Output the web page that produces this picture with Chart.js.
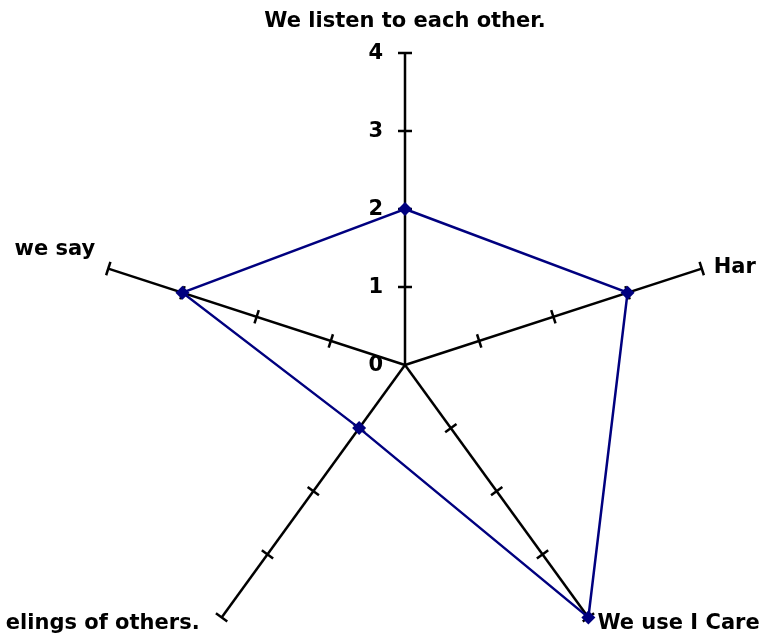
<!DOCTYPE html>
<html>
<head>
<meta charset="utf-8">
<script src="https://cdn.jsdelivr.net/npm/chart.js@4/dist/chart.umd.min.js"></script>
<style>
  html, body { margin: 0; padding: 0; background: #fff; overflow: hidden; }
  #wrap { width: 761px; height: 641px; overflow: hidden; }
</style>
</head>
<body>
<div id="wrap"><canvas id="radar" width="761" height="700"></canvas></div>
<script>
// ------------------------------------------------------------------
//  Data
// ------------------------------------------------------------------
const axisLabels = ['We listen to each other.', 'Har', 'We use I Care', 'elings of others.', 'we say'];
const ratings = [2, 3, 4, 1, 3];
const tickValues = [0, 1, 2, 3, 4];

const FONT = 'bold 21px "DejaVu Sans", sans-serif';

// where each axis label sits relative to the end of its axis
const labelPlace = [
    { dx: 0,   dy: -31, align: 'center' },
    { dx: 12,  dy: -1,  align: 'left' },
    { dx: 9,   dy: 6,   align: 'left' },
    { dx: -22, dy: 6,   align: 'right' },
    { dx: -13, dy: -19, align: 'right' }
];

// ------------------------------------------------------------------
//  Plugin: axis cross ticks, value labels, axis names
// ------------------------------------------------------------------
const axisDecor = {
    id: 'axisDecor',
    beforeDatasetsDraw(chart) {
        const scale = chart.scales.r;
        const ctx = chart.ctx;
        ctx.save();
        ctx.strokeStyle = '#000';
        ctx.lineWidth = 2.5;
        for (let i = 0; i < axisLabels.length; i++) {
            const a = scale.getIndexAngle(i) - Math.PI / 2;
            const px = -Math.sin(a), py = Math.cos(a);
            tickValues.forEach(v => {
                if (v === 0) return;
                const p = scale.getPointPositionForValue(i, v);
                ctx.beginPath();
                ctx.moveTo(p.x - px * 7, p.y - py * 7);
                ctx.lineTo(p.x + px * 7, p.y + py * 7);
                ctx.stroke();
            });
        }
        ctx.restore();
    },
    afterDraw(chart) {
        const scale = chart.scales.r;
        const ctx = chart.ctx;
        ctx.save();
        ctx.font = FONT;
        ctx.fillStyle = '#000';
        ctx.textBaseline = 'middle';

        // value labels on the first axis, left of the line
        ctx.textAlign = 'right';
        tickValues.forEach(v => {
            const p = scale.getPointPositionForValue(0, v);
            ctx.fillText(String(v), p.x - 22, p.y + 1);
        });

        // axis names
        axisLabels.forEach((txt, i) => {
            const p = scale.getPointPositionForValue(i, scale.max);
            const place = labelPlace[i];
            ctx.textAlign = place.align;
            ctx.fillText(txt, p.x + place.dx, p.y + place.dy);
        });
        ctx.restore();
    }
};

// ------------------------------------------------------------------
//  Chart
// ------------------------------------------------------------------
new Chart(document.getElementById('radar'), {
    type: 'radar',
    data: {
        labels: axisLabels,
        datasets: [{
            label: 'Rating',
            data: ratings,
            borderColor: '#00007f',
            backgroundColor: '#00007f',
            borderWidth: 2.5,
            fill: false,
            pointStyle: 'rectRot',
            pointRadius: 7,
            pointBackgroundColor: '#00007f',
            pointBorderWidth: 0
        }]
    },
    options: {
        responsive: false,
        animation: false,
        layout: { padding: { left: 93, right: 44, top: 53, bottom: 23 } },
        plugins: {
            legend: { display: false },
            tooltip: { enabled: false }
        },
        scales: {
            r: {
                min: 0,
                max: 4,
                startAngle: 0,
                grid: { display: false },
                angleLines: { display: true, color: '#000', lineWidth: 2.5 },
                ticks: { display: false, stepSize: 1 },
                pointLabels: { display: false }
            }
        }
    },
    plugins: [axisDecor]
});
</script>
</body>
</html>
